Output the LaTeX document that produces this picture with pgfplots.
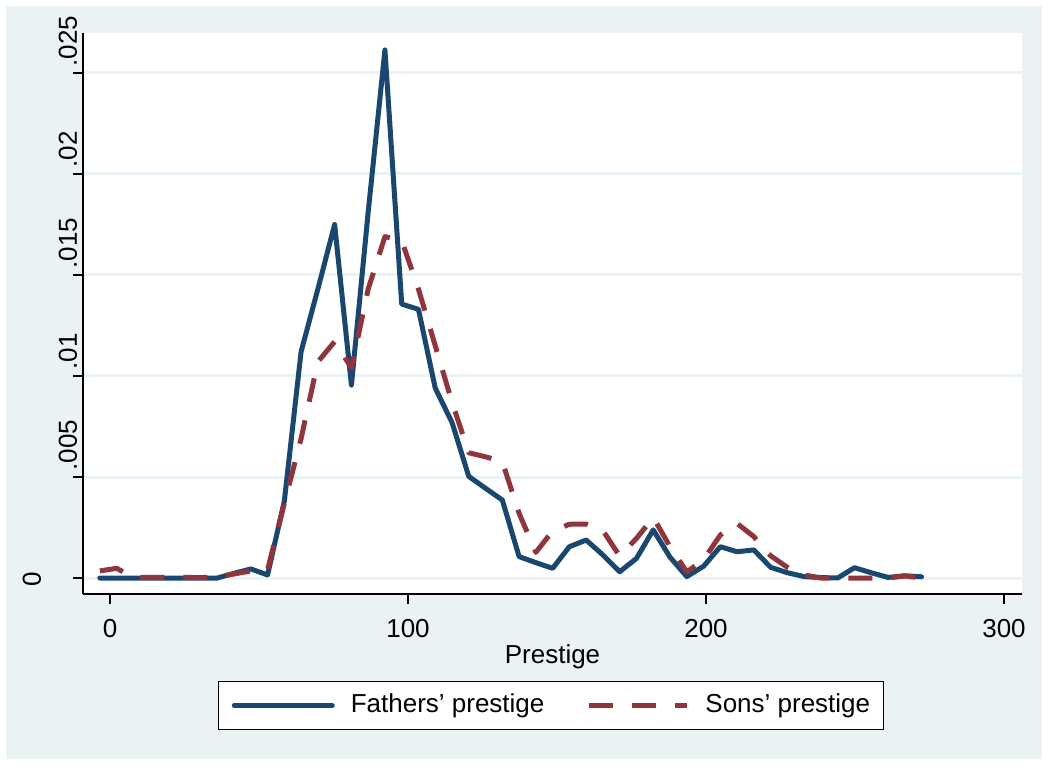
\documentclass[border=0pt]{standalone}
\usepackage{pgfplots}
\usepackage{pgfplotstable}
\usepackage{fontspec}
\setmainfont{Liberation Sans}
\pgfplotsset{compat=1.18}
\definecolor{stnavy}{RGB}{26,71,111}
\definecolor{stmaroon}{RGB}{144,53,59}
\definecolor{stbg}{RGB}{234,242,243}
\definecolor{stgrid}{RGB}{234,242,243}
\pgfplotstableread{
x f s
-3.40 0 0.00035
2.23 0 0.00048
7.85 0 0.00003
13.48 0 0.00003
19.11 0 0.00003
24.74 0 0.00003
30.36 0 0.00002
35.99 0 0.00005
41.62 0.00023 0.0002
47.24 0.00045 0.00035
52.87 0.00015 0.0004
58.50 0.0038 0.0037
64.12 0.0112 0.0069
69.75 0.0143 0.0107
75.38 0.0175 0.0117
81.01 0.00955 0.0104
86.63 0.0181 0.0143
92.26 0.02614 0.0169
97.89 0.01356 0.0167
103.51 0.0133 0.0143
109.14 0.0094 0.0115
114.77 0.0077 0.0087
120.39 0.00503 0.0062
126.02 0.00444 0.0060
131.65 0.00386 0.00576
137.28 0.00106 0.0032
142.90 0.00076 0.00127
148.53 0.00048 0.00233
154.16 0.00155 0.00266
159.78 0.00188 0.00267
165.41 0.00114 0.00234
171.04 0.00031 0.00109
176.66 0.00097 0.00196
182.29 0.00238 0.0030
187.92 0.00103 0.00155
193.55 0.00007 0.0003
199.17 0.00058 0.0009
204.80 0.00155 0.00213
210.43 0.0013 0.0027
216.05 0.00139 0.00205
221.68 0.00053 0.0011
227.31 0.00026 0.00053
232.94 0.00007 0.00015
238.56 0.00002 0.0
244.19 0.0 0.0
249.82 0.00051 0.0
255.44 0.00026 0.0
261.07 0.00003 0.0
266.70 0.00011 0.0001
272.33 0.00006 0.0
}\datatable
\begin{document}
\begin{tikzpicture}[font=\fontsize{13}{15.6}\selectfont]
\fill[white] (-41.5pt,297pt) rectangle (482.5pt,-85.5pt);
\fill[stbg] (-38.5pt,294pt) rectangle (479.5pt,-82.5pt);
\begin{axis}[
  at={(0,0)}, anchor=south west,
  scale only axis,
  width=469.5pt, height=280.5pt,
  xmin=-9.06, xmax=306.04,
  ymin=-0.000792, ymax=0.02698,
  scaled y ticks=false, scaled x ticks=false,
  axis x line*=bottom, axis y line*=left,
  axis line style={black, line width=0.8pt, -},
  axis background/.style={fill=white},
  tick align=outside,
  major tick length=5pt,
  tick style={black, line width=0.6pt},
  xtick={0,100,200,300},
  xticklabels={0,100,200,300},
  ytick={0,0.005,0.01,0.015,0.02,0.025},
  yticklabels={{\raisebox{18pt}{\hspace*{-8.5pt}0}},.005,.01,.015,.02,.025},
  yticklabel style={xshift=2pt, yshift=3pt, rotate=90, anchor=base west, inner sep=0pt},
  xticklabel style={inner sep=0pt, yshift=-7.5pt},
  ymajorgrids,
  grid style={stgrid, line width=1.5pt},
  xlabel={Prestige},
  legend style={at={(0.4984,-0.155)}, anchor=north, draw=black, line width=0.5pt,
    fill=white, legend columns=2, inner xsep=6.5pt, inner ysep=5.9pt,
    nodes={inner sep=0pt, text height=9.5pt, text depth=2.8pt},
    /tikz/every odd column/.append style={column sep=8pt},
    /tikz/every even column/.append style={column sep=21pt}},
  legend image code/.code={\draw[#1] (0pt,0pt) -- (49pt,0pt);},
]
\addplot[stnavy, line width=2.5pt, line join=round, line cap=round] table[x=x,y=f] {\datatable};
\addlegendentry{Fathers’ prestige}
\addplot[stmaroon, line width=2.5pt, line join=round, dash pattern=on 12pt off 9.5pt] table[x=x,y=s] {\datatable};
\addlegendentry{Sons’ prestige}
\end{axis}
\end{tikzpicture}
\end{document}
